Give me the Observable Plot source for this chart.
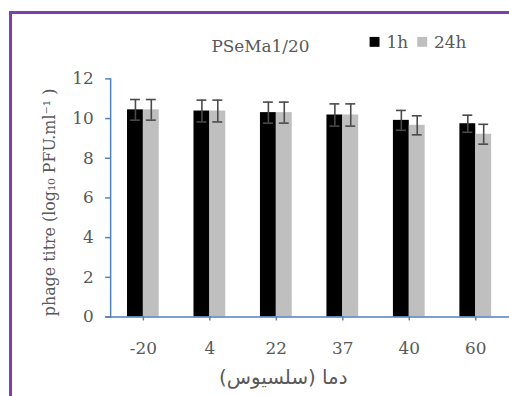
<!DOCTYPE html>
<html><head><meta charset="utf-8">
<script src="https://cdn.jsdelivr.net/npm/d3@7"></script>
<script src="https://cdn.jsdelivr.net/npm/@observablehq/plot@0.6"></script>
<style>
html,body{margin:0;padding:0;background:#fff;overflow:hidden;width:509px;height:396px}
#chart{position:absolute;left:0;top:0}
#frame{position:absolute;left:9px;top:11px;width:520px;height:400px;border-left:3px solid #7b3fb0;border-top:3px solid #7b3fb0;}
</style></head><body><div id="chart"></div><div id="frame"></div>
<script>
const temps = ["-20", "4", "22", "37", "40", "60"];
const seriesNames = ["1h", "24h"];
const mean1h = [10.44, 10.38, 10.30, 10.18, 9.91, 9.74];
const err1h = [0.52, 0.55, 0.53, 0.56, 0.50, 0.43];
const mean24h = [10.44, 10.38, 10.30, 10.18, 9.66, 9.21];
const err24h = [0.52, 0.55, 0.53, 0.56, 0.48, 0.50];
const yTicks = [0, 2, 4, 6, 8, 10, 12];
const colors = ["#000000", "#bfbfbf"];
const title = "PSeMa1/20";
const yTitle = "phage titre (log\u2081\u2080 PFU.ml\u207B\u00B9 )";
const xTitle = "دما (سلسیوس)";

const rows1h = temps.map((t, i) => ({t, v: mean1h[i], lo: mean1h[i] - err1h[i], hi: mean1h[i] + err1h[i]}));
const rows24h = temps.map((t, i) => ({t, v: mean24h[i], lo: mean24h[i] - err24h[i], hi: mean24h[i] + err24h[i]}));

const axisBlue = "#4f81bd";
const textGray = "#595959";
const errGray = "#4a4a4a";
const serif = "DejaVu Serif";

function errorBars(rows, dx) {
  return [
    Plot.ruleX(rows, {x: "t", y1: "lo", y2: "hi", dx, stroke: errGray, strokeWidth: 1.6}),
    Plot.tickY(rows, {x: "t", y: "hi", dx, insetLeft: 11, insetRight: 11, stroke: errGray, strokeWidth: 1.6}),
    Plot.tickY(rows, {x: "t", y: "lo", dx, insetLeft: 11, insetRight: 11, stroke: errGray, strokeWidth: 1.6})
  ];
}

function label(txt, dx, dy, opts = {}) {
  return Plot.text([txt], {frameAnchor: "top-left", dx, dy, textAnchor: "middle", lineAnchor: "middle",
    fill: textGray, fontSize: 17, fontFamily: serif, ...opts});
}

const chart = Plot.plot({
  width: 513,
  height: 396,
  marginLeft: 111,
  marginRight: 0,
  marginTop: 79,
  marginBottom: 77,
  style: {fontFamily: serif, background: "transparent", overflow: "visible"},
  x: {domain: temps, paddingInner: 0.52, paddingOuter: 0.26},
  y: {domain: [0, 12]},
  marks: [
    Plot.barY(rows1h, {x: "t", y: "v", fill: colors[0], insetRight: 16}),
    Plot.barY(rows24h, {x: "t", y: "v", fill: colors[1], insetLeft: 16}),
    ...errorBars(rows1h, -8),
    ...errorBars(rows24h, 8),
    Plot.axisY(yTicks, {tickSize: 5, tickPadding: 12, stroke: axisBlue, strokeWidth: 1.5, fill: textGray, fontSize: 17, label: null}),
    Plot.axisX({tickSize: 4, tickPadding: 21, stroke: axisBlue, strokeWidth: 1.5, fill: textGray, fontSize: 17, label: null}),
    Plot.frame({anchor: "left", stroke: axisBlue, strokeWidth: 1.5}),
    Plot.ruleY([0], {stroke: axisBlue, strokeWidth: 1.5, insetLeft: -5}),
    label(title, 151, -32.5),
    Plot.dot([seriesNames[0]], {frameAnchor: "top-left", dx: 266, dy: -37.3, symbol: "square", r: 5.64, fill: colors[0], stroke: null}),
    label(seriesNames[0], 278, -36.5, {textAnchor: "start"}),
    Plot.dot([seriesNames[1]], {frameAnchor: "top-left", dx: 314, dy: -37.3, symbol: "square", r: 5.64, fill: colors[1], stroke: null}),
    label(seriesNames[1], 326, -36.5, {textAnchor: "start"}),
    label(yTitle, -61, 124.5, {rotate: -90, fontSize: 16}),
    label(xTitle, 174, 301.5, {fontSize: 20, fontFamily: "DejaVu Sans"})
  ]
});
document.getElementById("chart").appendChild(chart);
</script></body></html>
